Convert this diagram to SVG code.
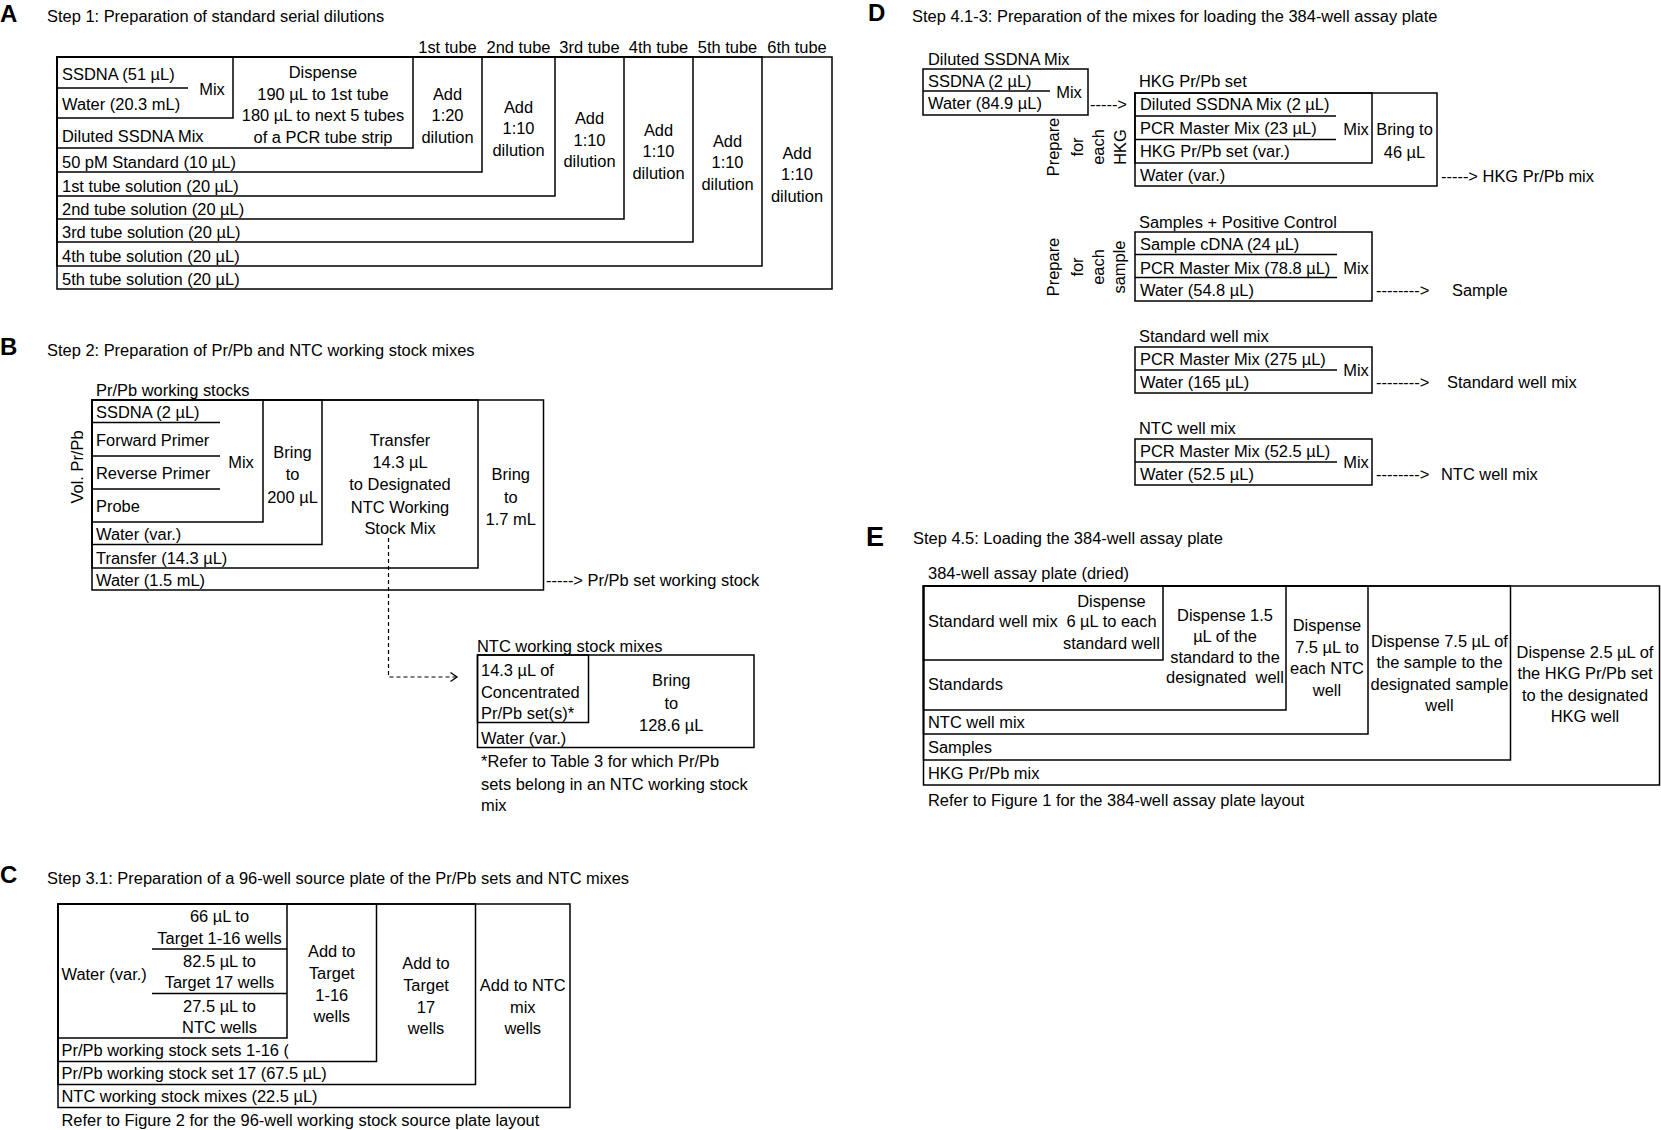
<svg xmlns="http://www.w3.org/2000/svg" width="1661" height="1130" viewBox="0 0 1661 1130">
<style>
.t{font-family:"Liberation Sans",Arial,Helvetica,sans-serif;font-size:16.45px;fill:#000}
.m{text-anchor:middle}
.lt{font-family:"Liberation Sans",Arial,Helvetica,sans-serif;font-weight:bold;font-size:24px;fill:#000}
.b{fill:none;stroke:#000;stroke-width:1.5}
.d{fill:none;stroke:#000;stroke-width:1.2;stroke-dasharray:4 3}
</style>
<defs>
<marker id="chev" markerUnits="userSpaceOnUse" markerWidth="10" markerHeight="12" refX="7" refY="5" orient="auto">
<path d="M0.5,0.5 L7,5 L0.5,9.5" fill="none" stroke="#000" stroke-width="1.3"/>
</marker>
<clipPath id="clipC"><rect x="0" y="1038" width="288.5" height="24"/></clipPath>
</defs>
<rect width="1661" height="1130" fill="#fff"/>

<!-- Panel A -->
<g id="panelA">
<text class="lt" x="0" y="22">A</text>
<text class="t" x="47" y="22">Step 1: Preparation of standard serial dilutions</text>
<g id="A-headers" class="t m">
<text x="447.5" y="52.5">1st tube</text>
<text x="518.5" y="52.5">2nd tube</text>
<text x="589.5" y="52.5">3rd tube</text>
<text x="658.5" y="52.5">4th tube</text>
<text x="727.5" y="52.5">5th tube</text>
<text x="797" y="52.5">6th tube</text>
</g>
<g id="A-mix">
<rect class="b" x="57" y="57" width="176" height="61"/>
<path class="b" d="M57,88 H188"/>
<text class="t" x="62" y="79.5">SSDNA (51 µL)</text>
<text class="t" x="62" y="110">Water (20.3 mL)</text>
<text class="t m" x="212" y="95">Mix</text>
</g>
<g id="A-dispense">
<rect class="b" x="57" y="57" width="356" height="91"/>
<text class="t" x="62" y="142">Diluted SSDNA Mix</text>
<text class="t m" x="323" y="78">Dispense</text>
<text class="t m" x="323" y="99.5">190 µL to 1st tube</text>
<text class="t m" x="323" y="121">180 µL to next 5 tubes</text>
<text class="t m" x="323" y="142.5">of a PCR tube strip</text>
</g>
<g id="A-tube1">
<rect class="b" x="57" y="57" width="425" height="115"/>
<text class="t" x="62" y="167.5">50 pM Standard (10 µL)</text>
<text class="t m" x="447.5" y="99.7">Add</text>
<text class="t m" x="447.5" y="121.2">1:20</text>
<text class="t m" x="447.5" y="142.7">dilution</text>
</g>
<g id="A-tube2">
<rect class="b" x="57" y="57" width="498" height="139"/>
<text class="t" x="62" y="191.5">1st tube solution (20 µL)</text>
<text class="t m" x="518.5" y="112.7">Add</text>
<text class="t m" x="518.5" y="134.2">1:10</text>
<text class="t m" x="518.5" y="155.7">dilution</text>
</g>
<g id="A-tube3">
<rect class="b" x="57" y="57" width="567" height="162"/>
<text class="t" x="62" y="215">2nd tube solution (20 µL)</text>
<text class="t m" x="589.5" y="124.2">Add</text>
<text class="t m" x="589.5" y="145.7">1:10</text>
<text class="t m" x="589.5" y="167.2">dilution</text>
</g>
<g id="A-tube4">
<rect class="b" x="57" y="57" width="636" height="185"/>
<text class="t" x="62" y="238">3rd tube solution (20 µL)</text>
<text class="t m" x="658.5" y="135.9">Add</text>
<text class="t m" x="658.5" y="157.4">1:10</text>
<text class="t m" x="658.5" y="178.9">dilution</text>
</g>
<g id="A-tube5">
<rect class="b" x="57" y="57" width="705" height="209"/>
<text class="t" x="62" y="261.5">4th tube solution (20 µL)</text>
<text class="t m" x="727.5" y="146.7">Add</text>
<text class="t m" x="727.5" y="168.2">1:10</text>
<text class="t m" x="727.5" y="189.7">dilution</text>
</g>
<g id="A-tube6">
<rect class="b" x="57" y="57" width="775" height="232"/>
<text class="t" x="62" y="285">5th tube solution (20 µL)</text>
<text class="t m" x="797" y="158.5">Add</text>
<text class="t m" x="797" y="180">1:10</text>
<text class="t m" x="797" y="201.5">dilution</text>
</g>
</g>

<!-- Panel B -->
<g id="panelB">
<text class="lt" x="0" y="355">B</text>
<text class="t" x="47" y="356">Step 2: Preparation of Pr/Pb and NTC working stock mixes</text>
<text class="t" x="96" y="396">Pr/Pb working stocks</text>
<text class="t m" transform="translate(77,467) rotate(-90)" y="6">Vol. Pr/Pb</text>
<g id="B-mix">
<rect class="b" x="92" y="400" width="171" height="122"/>
<path class="b" d="M92,422.5 H220 M92,456 H220 M92,489 H220"/>
<text class="t" x="96" y="418">SSDNA (2 µL)</text>
<text class="t" x="96" y="446">Forward Primer</text>
<text class="t" x="96" y="479">Reverse Primer</text>
<text class="t" x="96" y="511.5">Probe</text>
<text class="t m" x="241" y="467.5">Mix</text>
</g>
<g id="B-bring200">
<rect class="b" x="92" y="400" width="230" height="144.5"/>
<text class="t" x="96" y="540">Water (var.)</text>
<text class="t m" x="292.5" y="457.5">Bring</text>
<text class="t m" x="292.5" y="480">to</text>
<text class="t m" x="292.5" y="502.5">200 µL</text>
</g>
<g id="B-transfer">
<rect class="b" x="92" y="400" width="386" height="168"/>
<text class="t" x="96" y="563.5">Transfer (14.3 µL)</text>
<text class="t m" x="400" y="446">Transfer</text>
<text class="t m" x="400" y="468">14.3 µL</text>
<text class="t m" x="400" y="490">to Designated</text>
<text class="t m" x="400" y="512.5">NTC Working</text>
<text class="t m" x="400" y="534">Stock Mix</text>
</g>
<g id="B-bring17">
<rect class="b" x="92" y="400" width="451.5" height="190"/>
<text class="t" x="96" y="586">Water (1.5 mL)</text>
<text class="t m" x="510.75" y="480">Bring</text>
<text class="t m" x="510.75" y="502.5">to</text>
<text class="t m" x="510.75" y="525">1.7 mL</text>
</g>
<text class="t" x="546" y="586">-----&gt; Pr/Pb set working stock</text>
<g id="B-ntc">
<text class="t" x="477" y="651.5">NTC working stock mixes</text>
<rect class="b" x="477.5" y="655" width="276.5" height="92.5"/>
<rect class="b" x="477.5" y="655" width="111" height="67.5"/>
<text class="t" x="481" y="676">14.3 µL of</text>
<text class="t" x="481" y="698">Concentrated</text>
<text class="t" x="481" y="719">Pr/Pb set(s)*</text>
<text class="t" x="481" y="744">Water (var.)</text>
<text class="t m" x="671.25" y="686">Bring</text>
<text class="t m" x="671.25" y="708.5">to</text>
<text class="t m" x="671.25" y="731">128.6 µL</text>
<text class="t" x="481" y="767">*Refer to Table 3 for which Pr/Pb</text>
<text class="t" x="481" y="789.5">sets belong in an NTC working stock</text>
<text class="t" x="481" y="811">mix</text>
</g>
</g>

<!-- Panel C -->
<g id="panelC">
<text class="lt" x="0" y="883">C</text>
<text class="t" x="47" y="884">Step 3.1: Preparation of a 96-well source plate of the Pr/Pb sets and NTC mixes</text>
<g id="C-water">
<rect class="b" x="58" y="904" width="229" height="134"/>
<path class="b" d="M152,949 H287 M152,993.5 H287"/>
<text class="t" x="61.5" y="979.5">Water (var.)</text>
<text class="t m" x="219.5" y="922">66 µL to</text>
<text class="t m" x="219.5" y="943.5">Target 1-16 wells</text>
<text class="t m" x="219.5" y="966.5">82.5 µL to</text>
<text class="t m" x="219.5" y="988">Target 17 wells</text>
<text class="t m" x="219.5" y="1011.5">27.5 µL to</text>
<text class="t m" x="219.5" y="1033">NTC wells</text>
</g>
<g id="C-add116">
<rect class="b" x="58" y="904" width="318.5" height="157.5"/>
<text class="t" x="61.5" y="1056" clip-path="url(#clipC)">Pr/Pb working stock sets 1-16 (</text>
<text class="t m" x="331.75" y="957">Add to</text>
<text class="t m" x="331.75" y="978.5">Target</text>
<text class="t m" x="331.75" y="1001">1-16</text>
<text class="t m" x="331.75" y="1022">wells</text>
</g>
<g id="C-add17">
<rect class="b" x="58" y="904" width="417.5" height="180.5"/>
<text class="t" x="61.5" y="1079">Pr/Pb working stock set 17 (67.5 µL)</text>
<text class="t m" x="426" y="968.5">Add to</text>
<text class="t m" x="426" y="991">Target</text>
<text class="t m" x="426" y="1012.5">17</text>
<text class="t m" x="426" y="1034">wells</text>
</g>
<g id="C-addntc">
<rect class="b" x="58" y="904" width="512" height="203.5"/>
<text class="t" x="61.5" y="1102">NTC working stock mixes (22.5 µL)</text>
<text class="t m" x="522.75" y="991">Add to NTC</text>
<text class="t m" x="522.75" y="1012.5">mix</text>
<text class="t m" x="522.75" y="1034">wells</text>
</g>
<text class="t" x="61.5" y="1126">Refer to Figure 2 for the 96-well working stock source plate layout</text>
</g>

<!-- Panel D -->
<g id="panelD">
<text class="lt" x="868" y="21">D</text>
<text class="t" x="912" y="22">Step 4.1-3: Preparation of the mixes for loading the 384-well assay plate</text>
<g id="D-diluted">
<text class="t" x="928" y="65">Diluted SSDNA Mix</text>
<rect class="b" x="923" y="69" width="165" height="46"/>
<path class="b" d="M923,91 H1050"/>
<text class="t" x="928" y="86.5">SSDNA (2 µL)</text>
<text class="t" x="928" y="108.5">Water (84.9 µL)</text>
<text class="t m" x="1069" y="97.5">Mix</text>
</g>
<text class="t" x="1090" y="110">-----&gt;</text>
<text class="t m" transform="translate(1059,147) rotate(-90)"><tspan x="0" y="0">Prepare</tspan><tspan x="0" y="24">for</tspan><tspan x="0" y="45">each</tspan><tspan x="0" y="67">HKG</tspan></text>
<g id="D-hkg">
<text class="t" x="1139" y="87">HKG Pr/Pb set</text>
<rect class="b" x="1135" y="93" width="302" height="93"/>
<rect class="b" x="1135" y="93" width="237" height="70"/>
<path class="b" d="M1135,116 H1336 M1135,139.5 H1336"/>
<text class="t" x="1140" y="110">Diluted SSDNA Mix (2 µL)</text>
<text class="t" x="1140" y="133.5">PCR Master Mix (23 µL)</text>
<text class="t" x="1140" y="157">HKG Pr/Pb set (var.)</text>
<text class="t" x="1140" y="180.5">Water (var.)</text>
<text class="t m" x="1356" y="135">Mix</text>
<text class="t m" x="1404.5" y="135">Bring to</text>
<text class="t m" x="1404.5" y="157.5">46 µL</text>
</g>
<text class="t" x="1441" y="182">-----&gt; HKG Pr/Pb mix</text>
<text class="t m" transform="translate(1059,267) rotate(-90)"><tspan x="0" y="0">Prepare</tspan><tspan x="0" y="24">for</tspan><tspan x="0" y="45">each</tspan><tspan x="0" y="66">sample</tspan></text>
<g id="D-samples">
<text class="t" x="1139" y="227.5">Samples + Positive Control</text>
<rect class="b" x="1135" y="232" width="237" height="69"/>
<path class="b" d="M1135,254.5 H1337 M1135,277.5 H1337"/>
<text class="t" x="1140" y="250">Sample cDNA (24 µL)</text>
<text class="t" x="1140" y="273.5">PCR Master Mix (78.8 µL)</text>
<text class="t" x="1140" y="296">Water (54.8 µL)</text>
<text class="t m" x="1356" y="273.5">Mix</text>
</g>
<text class="t" x="1376" y="296">--------&gt;</text>
<text class="t" x="1452" y="296">Sample</text>
<g id="D-standard">
<text class="t" x="1139" y="341.5">Standard well mix</text>
<rect class="b" x="1135" y="347" width="237" height="46"/>
<path class="b" d="M1135,370 H1337"/>
<text class="t" x="1140" y="365">PCR Master Mix (275 µL)</text>
<text class="t" x="1140" y="388">Water (165 µL)</text>
<text class="t m" x="1356" y="376">Mix</text>
</g>
<text class="t" x="1376" y="388">--------&gt;</text>
<text class="t" x="1447" y="388">Standard well mix</text>
<g id="D-ntc">
<text class="t" x="1139" y="434">NTC well mix</text>
<rect class="b" x="1135" y="439" width="237" height="46"/>
<path class="b" d="M1135,462 H1337"/>
<text class="t" x="1140" y="456.5">PCR Master Mix (52.5 µL)</text>
<text class="t" x="1140" y="480">Water (52.5 µL)</text>
<text class="t m" x="1356" y="468">Mix</text>
</g>
<text class="t" x="1376" y="480">--------&gt;</text>
<text class="t" x="1441" y="480">NTC well mix</text>
</g>

<!-- Panel E -->
<g id="panelE">
<text class="lt" x="866" y="546" style="font-size:27px">E</text>
<text class="t" x="913" y="543.5">Step 4.5: Loading the 384-well assay plate</text>
<text class="t" x="928" y="579">384-well assay plate (dried)</text>
<g id="E-standard">
<rect class="b" x="923.5" y="586" width="239.5" height="74"/>
<text class="t" x="928" y="627">Standard well mix</text>
<text class="t m" x="1111.5" y="607">Dispense</text>
<text class="t m" x="1111.5" y="627">6 µL to each</text>
<text class="t m" x="1111.5" y="648.5">standard well</text>
</g>
<g id="E-standards">
<rect class="b" x="923.5" y="586" width="362.5" height="124"/>
<text class="t" x="928" y="690">Standards</text>
<text class="t m" x="1225" y="621">Dispense 1.5</text>
<text class="t m" x="1225" y="642">µL of the</text>
<text class="t m" x="1225" y="662.5">standard to the</text>
<text class="t m" x="1225" y="682.5">designated&#160; well</text>
</g>
<g id="E-ntc">
<rect class="b" x="923.5" y="586" width="444.5" height="148"/>
<text class="t" x="928" y="728">NTC well mix</text>
<text class="t m" x="1327" y="631">Dispense</text>
<text class="t m" x="1327" y="652.5">7.5 µL to</text>
<text class="t m" x="1327" y="674">each NTC</text>
<text class="t m" x="1327" y="695.5">well</text>
</g>
<g id="E-samples">
<rect class="b" x="923.5" y="586" width="587" height="174"/>
<text class="t" x="928" y="753">Samples</text>
<text class="t m" x="1439.5" y="646.5">Dispense 7.5 µL of</text>
<text class="t m" x="1439.5" y="668">the sample to the</text>
<text class="t m" x="1439.5" y="689.5">designated sample</text>
<text class="t m" x="1439.5" y="711">well</text>
</g>
<g id="E-hkg">
<rect class="b" x="923.5" y="586" width="736" height="199"/>
<text class="t" x="928" y="778.5">HKG Pr/Pb mix</text>
<text class="t m" x="1585" y="657.5">Dispense 2.5 µL of</text>
<text class="t m" x="1585" y="679">the HKG Pr/Pb set</text>
<text class="t m" x="1585" y="700.5">to the designated</text>
<text class="t m" x="1585" y="722">HKG well</text>
</g>
<text class="t" x="928" y="806">Refer to Figure 1 for the 384-well assay plate layout</text>
</g>

<!-- Connectors -->
<g id="connectors">
<path class="d" d="M388.5,538 V677 H457" marker-end="url(#chev)"/>
</g>
</svg>
